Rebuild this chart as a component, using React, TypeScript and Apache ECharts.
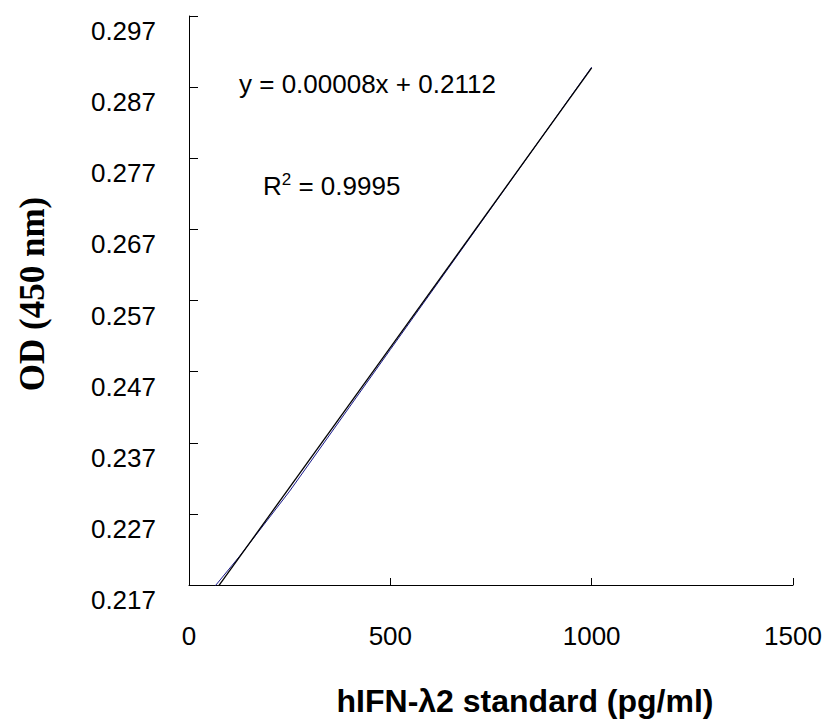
import React, { useEffect, useRef } from "react";
import * as echarts from "echarts";

// Standard concentrations (pg/ml) and measured OD at 450 nm
const concentrations = [62.5, 125, 250, 500, 1000];
const odValues = [0.2167, 0.221, 0.2302, 0.2501, 0.2898];
// Linear trendline end points
const trendX = [62.5, 1000];
const trendOD = [0.216, 0.2897];
// Axis settings
const xTicks = [0, 500, 1000, 1500];
const yMin = 0.217;
const yMax = 0.297;
const yStep = 0.01;
const equationText = "y = 0.00008x + 0.2112";
const r2Value = "0.9995";
const xTitle = "hIFN-λ2 standard (pg/ml)";
const yTitle = "OD (450 nm)";

const SANS = "'Liberation Sans', Arial, sans-serif";
const SERIF = "'Liberation Serif', 'Times New Roman', serif";

export default function App() {
  const ref = useRef<HTMLDivElement>(null);

  useEffect(() => {
    if (!ref.current) return;
    const chart = echarts.init(ref.current, undefined, { renderer: "svg" });
    const dataPts = concentrations.map((x, i) => [x, odValues[i]]);
    const trendPts = trendX.map((x, i) => [x, trendOD[i]]);
    chart.setOption({
      animation: false,
      backgroundColor: "#ffffff",
      grid: { left: 189, right: 32, top: 16, bottom: 134, containLabel: false },
      xAxis: {
        type: "value",
        min: xTicks[0],
        max: xTicks[xTicks.length - 1],
        interval: xTicks[1] - xTicks[0],
        axisLine: { show: true, lineStyle: { color: "#000", width: 1 } },
        axisTick: { show: true, inside: true, length: 7, lineStyle: { color: "#000" } },
        axisLabel: {
          color: "#000",
          fontFamily: SANS,
          fontSize: 26,
          margin: 38,
          formatter: (v: number) => String(v),
        },
        splitLine: { show: false },
      },
      yAxis: {
        type: "value",
        min: yMin,
        max: yMax,
        interval: yStep,
        axisLine: { show: true, lineStyle: { color: "#000", width: 1 } },
        axisTick: { show: true, inside: true, length: 9, lineStyle: { color: "#000" } },
        axisLabel: {
          color: "#000",
          fontFamily: SANS,
          fontSize: 26,
          margin: 33,
          verticalAlign: "top",
          lineHeight: 30,
          formatter: (v: number) => v.toFixed(3),
        },
        splitLine: { show: false },
      },
      series: [
        {
          type: "line",
          data: dataPts,
          showSymbol: false,
          symbol: "none",
          clip: true,
          lineStyle: { color: "#1a1a8c", width: 1 },
          z: 2,
        },
        {
          type: "line",
          data: trendPts,
          showSymbol: false,
          symbol: "none",
          clip: true,
          lineStyle: { color: "#000", width: 1.3 },
          z: 3,
        },
      ],
      graphic: [
        {
          type: "text",
          x: 239,
          y: 84,
          style: {
            text: equationText,
            fill: "#000",
            font: `26px ${SANS}`,
            textAlign: "left",
            textVerticalAlign: "middle",
          },
        },
        {
          type: "text",
          x: 263,
          y: 186,
          style: {
            text: `{a|R}{s|2}{a| = ${r2Value}}`,
            textAlign: "left",
            textVerticalAlign: "middle",
            rich: {
              a: { fontSize: 26, fontFamily: SANS, fill: "#000", color: "#000" },
              s: {
                fontSize: 17,
                fontFamily: SANS,
                fill: "#000",
                color: "#000",
                padding: [0, 0, 14, 0],
              },
            },
          },
        },
        {
          type: "text",
          x: 525,
          y: 701,
          style: {
            text: xTitle,
            fill: "#000",
            font: `bold 32px ${SANS}`,
            textAlign: "center",
            textVerticalAlign: "middle",
          },
        },
        {
          type: "text",
          x: 32,
          y: 294,
          rotation: Math.PI / 2,
          style: {
            text: yTitle,
            fill: "#000",
            font: `bold 35px ${SERIF}`,
            textAlign: "center",
            textVerticalAlign: "middle",
          },
        },
      ],
    });
    return () => chart.dispose();
  }, []);

  return (
    <div
      ref={ref}
      style={{ position: "absolute", left: 0, top: 0, width: 825, height: 719 }}
    />
  );
}
